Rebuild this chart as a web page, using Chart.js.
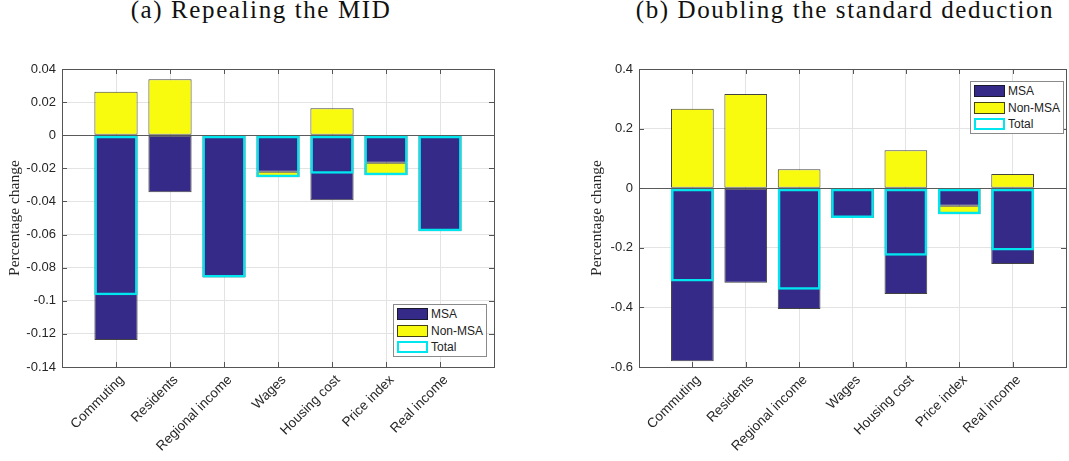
<!DOCTYPE html>
<html>
<head>
<meta charset="utf-8">
<script src="https://cdn.jsdelivr.net/npm/chart.js@4.4.1/dist/chart.umd.min.js"></script>
<style>
  html, body { margin: 0; padding: 0; background: #fff; }
  body { width: 1069px; height: 461px; position: relative; overflow: hidden; }
  .panel { position: absolute; top: 0; height: 461px; }
  .title { position: absolute; top: -4px; width: 600px; text-align: center; font-family: 'Liberation Serif', serif; font-size: 25px; letter-spacing: 1.6px; color: #111; white-space: nowrap; }
  .legend { position: absolute; background: #fff; border: 1px solid #8a8a8a; font-family: 'Liberation Sans', Arial, sans-serif; font-size: 12px; color: #222; box-sizing: border-box; width: 94px; height: 53px; padding: 1px 0 0 3px; }
  .legend .row { height: 16.5px; display: flex; align-items: center; }
  .legend .sw { width: 31px; height: 12px; box-sizing: border-box; margin-right: 3px; }
</style>
</head>
<body>
<div class="title" id="titleA" style="left: -39px;"></div>
<div class="title" id="titleB" style="left: 545px;"></div>
<div class="panel" style="left: 0; width: 535px;"><canvas id="chartA" width="535" height="461"></canvas></div>
<div class="panel" style="left: 535px; width: 534px;"><canvas id="chartB" width="534" height="461"></canvas></div>
<div class="legend" id="legendA" style="left: 393px; top: 304px;"></div>
<div class="legend" id="legendB" style="left: 970px; top: 81px;"></div>
<script>
const categories = ['Commuting', 'Residents', 'Regional income', 'Wages', 'Housing cost', 'Price index', 'Real income'];
const seriesNames = ['MSA', 'Non-MSA', 'Total'];
const yTitle = 'Percentage change';

// (a) Repealing the MID
const titleA = '(a) Repealing the MID';
const msaA = [-0.1237, -0.0345, -0.0859, -0.0220, -0.0393, -0.0166, -0.0580];
const nonMsaA = [0.0263, 0.0338, 0, -0.0034, 0.0163, -0.0076, 0];
const totalA = [-0.0967, 0, -0.0859, -0.0254, -0.0233, -0.0242, -0.0580];
const yTicksA = [0.04, 0.02, 0, -0.02, -0.04, -0.06, -0.08, -0.1, -0.12, -0.14];

// (b) Doubling the standard deduction
const titleB = '(b) Doubling the standard deduction';
const msaB = [-0.581, -0.317, -0.405, -0.100, -0.355, -0.059, -0.254];
const nonMsaB = [0.267, 0.316, 0.064, 0, 0.127, -0.028, 0.048];
const totalB = [-0.313, 0, -0.341, -0.100, -0.227, -0.087, -0.209];
const yTicksB = [0.4, 0.2, 0, -0.2, -0.4, -0.6];

const msaColor = '#352a87';
const nonMsaColor = '#f9fb0e';
const totalColor = '#00e6ef';
const edgeColor = 'rgba(20,20,20,0.8)';
const gridColor = '#e3e3e3';
const zeroColor = '#5a5a5a';
const axisColor = '#555555';
const tickColor = '#262626';

Chart.defaults.font.family = "'Liberation Sans', Arial, sans-serif";
Chart.defaults.font.size = 13;

// matlab-style box with inward ticks
const framePlugin = {
    id: 'frame',
    afterDatasetsDraw(chart) {
        const { ctx, chartArea: a, scales: { x, y } } = chart;
        const len = 5;
        ctx.save();
        ctx.strokeStyle = axisColor;
        ctx.lineWidth = 1;
        ctx.beginPath();
        y.ticks.forEach((t, i) => {
            const py = Math.round(y.getPixelForTick(i)) + 0.5;
            ctx.moveTo(a.left, py); ctx.lineTo(a.left + len, py);
            ctx.moveTo(a.right, py); ctx.lineTo(a.right - len, py);
        });
        x.ticks.forEach((t, i) => {
            const px = Math.round(x.getPixelForTick(i)) + 0.5;
            ctx.moveTo(px, a.top); ctx.lineTo(px, a.top + len);
            ctx.moveTo(px, a.bottom); ctx.lineTo(px, a.bottom - len);
        });
        ctx.stroke();
        ctx.strokeRect(Math.round(a.left) + 0.5, Math.round(a.top) + 0.5,
            Math.round(a.right - a.left), Math.round(a.bottom - a.top));
        ctx.restore();
    }
};

function toPoints(values) {
    return values.map((v, i) => ({ x: i + 1, y: v }));
}

function makeChart(id, msa, nonMsa, total, yTicks, axisWidth, padRight, titlePad) {
    const bar = { grouped: false, categoryPercentage: 1, barPercentage: 0.8, borderSkipped: false };
    return new Chart(document.getElementById(id).getContext('2d'), {
        type: 'bar',
        data: {
            datasets: [
                Object.assign({ label: seriesNames[0], data: toPoints(msa), backgroundColor: msaColor,
                    borderColor: edgeColor, borderWidth: 1, stack: 'parts' }, bar),
                Object.assign({ label: seriesNames[1], data: toPoints(nonMsa), backgroundColor: nonMsaColor,
                    borderColor: edgeColor, borderWidth: 1, stack: 'parts' }, bar),
                Object.assign({ label: seriesNames[2], data: toPoints(total), backgroundColor: 'rgba(0,0,0,0)',
                    borderColor: totalColor, borderWidth: 2.5, stack: 'total', order: -1 }, bar)
            ]
        },
        options: {
            responsive: false,
            animation: false,
            devicePixelRatio: 1,
            layout: { padding: { top: 69, right: padRight, bottom: 0, left: 0 } },
            plugins: { legend: { display: false }, tooltip: { enabled: false } },
            scales: {
                x: {
                    type: 'linear',
                    min: 0,
                    max: categories.length + 1,
                    offset: false,
                    afterBuildTicks: s => { s.ticks = categories.map((c, i) => ({ value: i + 1 })); },
                    afterFit: s => { s.height = 94; },
                    grid: { color: gridColor, drawTicks: false, offset: false },
                    border: { display: false },
                    ticks: {
                        autoSkip: false,
                        minRotation: 45,
                        maxRotation: 45,
                        padding: 5,
                        labelOffset: 6,
                        color: tickColor,
                        font: { size: 13.5 },
                        callback: v => categories[v - 1] || ''
                    }
                },
                y: {
                    stacked: true,
                    min: yTicks[yTicks.length - 1],
                    max: yTicks[0],
                    afterBuildTicks: s => { s.ticks = yTicks.map(v => ({ value: v })); },
                    afterFit: s => { s.width = axisWidth; },
                    grid: {
                        color: c => (c.tick && c.tick.value === 0 ? zeroColor : gridColor),
                        drawTicks: false
                    },
                    border: { display: false },
                    ticks: { padding: 6, color: tickColor, callback: v => String(v) },
                    title: {
                        display: true,
                        text: yTitle,
                        color: tickColor,
                        font: { family: "'Liberation Serif', serif", size: 15.5 },
                        padding: { top: titlePad, bottom: 0 }
                    }
                }
            }
        },
        plugins: [framePlugin]
    });
}

function makeLegend(id) {
    const box = document.getElementById(id);
    const swatches = [
        'background:' + msaColor + ';border:1px solid ' + edgeColor,
        'background:' + nonMsaColor + ';border:1px solid ' + edgeColor,
        'background:#fff;border:2px solid ' + totalColor
    ];
    seriesNames.forEach((name, i) => {
        const row = document.createElement('div');
        row.className = 'row';
        const sw = document.createElement('span');
        sw.className = 'sw';
        sw.style.cssText = swatches[i];
        const label = document.createElement('span');
        label.textContent = name;
        row.appendChild(sw);
        row.appendChild(label);
        box.appendChild(row);
    });
}

document.getElementById('titleA').textContent = titleA;
document.getElementById('titleB').textContent = titleB;

makeChart('chartA', msaA, nonMsaA, totalA, yTicksA, 62, 41, 5.7);
makeChart('chartB', msaB, nonMsaB, totalB, yTicksB, 104, 3, 52.7);
makeLegend('legendA');
makeLegend('legendB');
</script>
</body>
</html>
